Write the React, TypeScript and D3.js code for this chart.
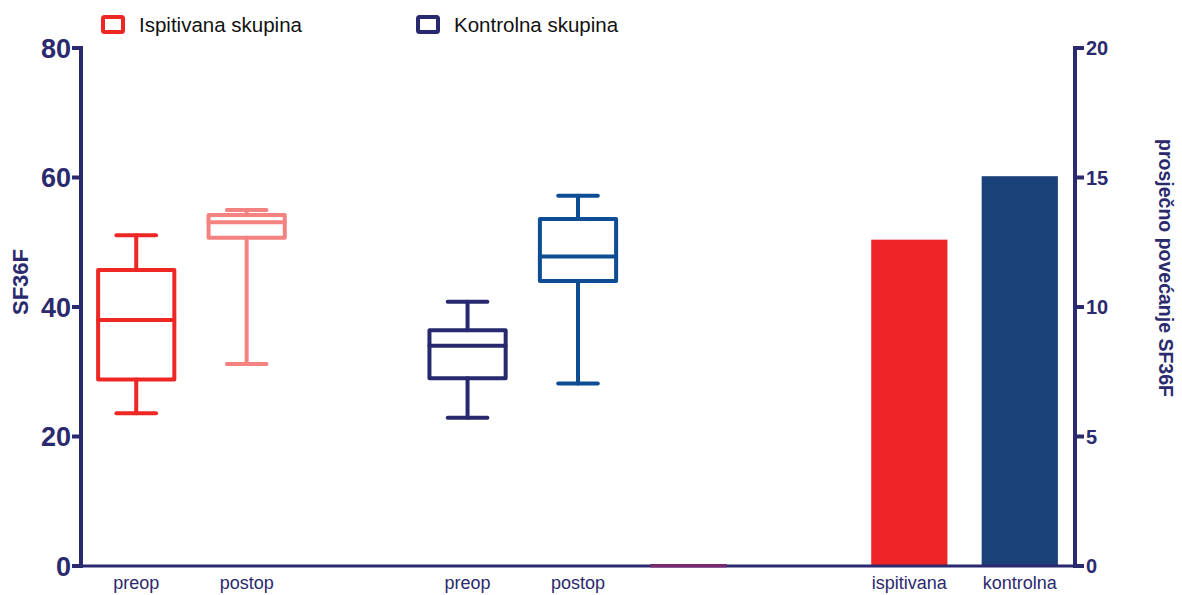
import React from "react";
import * as d3 from "d3";

const slots = ["isp-preop", "isp-postop", "gap1", "kon-preop", "kon-postop", "zero", "gap2", "bar-isp", "bar-kon"];
const slotLabels = ["preop", "postop", "", "preop", "postop", "", "", "ispitivana", "kontrolna"];

// box plot stats: [min, q1, median, q3, max]
const boxSlots = ["isp-preop", "isp-postop", "kon-preop", "kon-postop"];
const boxMin = [23.6, 31.2, 22.9, 28.2];
const boxQ1 = [28.8, 50.7, 29.0, 44.0];
const boxMedian = [38.0, 53.1, 34.0, 47.8];
const boxQ3 = [45.7, 54.2, 36.4, 53.6];
const boxMax = [51.1, 55.0, 40.8, 57.2];
const boxColors = ["#EE2624", "#F48281", "#27286E", "#0E4D94"];

const barSlots = ["zero", "bar-isp", "bar-kon"];
const barValues = [0, 12.6, 15.05];
const barColors = ["#7B2A6E", "#EE2426", "#1A4178"];

const leftTicks = [0, 20, 40, 60, 80];
const rightTicks = [0, 5, 10, 15, 20];

const legendLabels = ["Ispitivana skupina", "Kontrolna skupina"];
const legendColors = ["#EE2624", "#27286E"];

const AXIS = "#2B2A6E";
const FONT = "'Liberation Sans', Arial, sans-serif";

export default function App() {
  const x0 = 81, x1 = 1075, yTop = 48, yBot = 566;
  const x = d3.scaleBand<string>().domain(slots).range([x0, x1]).paddingInner(0.31).paddingOuter(0.155);
  const yL = d3.scaleLinear().domain([0, 80]).range([yBot, yTop]);
  const yR = d3.scaleLinear().domain([0, 20]).range([yBot, yTop]);
  const bw = x.bandwidth();
  const capW = bw * 0.52;

  return (
    <svg width={1182} height={595} style={{ position: "absolute", left: 0, top: 0, background: "#fff" }} fontFamily={FONT}>
      {/* legend */}
      {legendLabels.map((l, i) => {
        const lx = i === 0 ? 103 : 418;
        return (
          <g key={l}>
            <rect x={lx} y={17} width={20} height={15} fill="none" stroke={legendColors[i]} strokeWidth={4} rx={1.5} />
            <text x={lx + 36} y={32} fontSize={20.5} fill="#111">{l}</text>
          </g>
        );
      })}

      {/* boxes */}
      {boxSlots.map((s, i) => {
        const cx = (x(s) as number) + bw / 2;
        const bx = x(s) as number;
        const c = boxColors[i];
        return (
          <g key={s} stroke={c} strokeWidth={4} fill="none" strokeLinecap="round" strokeLinejoin="round">
            <line x1={cx} x2={cx} y1={yL(boxMax[i])} y2={yL(boxQ3[i])} />
            <line x1={cx} x2={cx} y1={yL(boxQ1[i])} y2={yL(boxMin[i])} />
            <line x1={cx - capW / 2} x2={cx + capW / 2} y1={yL(boxMax[i])} y2={yL(boxMax[i])} />
            <line x1={cx - capW / 2} x2={cx + capW / 2} y1={yL(boxMin[i])} y2={yL(boxMin[i])} />
            <rect x={bx} y={yL(boxQ3[i])} width={bw} height={yL(boxQ1[i]) - yL(boxQ3[i])} />
            <line x1={bx} x2={bx + bw} y1={yL(boxMedian[i])} y2={yL(boxMedian[i])} />
          </g>
        );
      })}

      {/* bars */}
      {barSlots.map((s, i) => (
        <rect key={s} x={x(s) as number} y={yR(barValues[i]) - (barValues[i] === 0 ? 2 : 0)} width={bw}
          height={Math.max(yBot - yR(barValues[i]), 0) + (barValues[i] === 0 ? 2 : 0)} fill={barColors[i]} />
      ))}

      {/* axes */}
      <g stroke={AXIS} strokeWidth={4} fill="none">
        <line x1={x0} x2={x0} y1={yTop - 2} y2={yBot + 2} />
        <line x1={x1} x2={x1} y1={yTop - 2} y2={yBot + 2} />
      </g>
      <line x1={x0} x2={x1} y1={yBot} y2={yBot} stroke={AXIS} strokeWidth={3} />
      {barSlots.slice(0, 1).map((s) => (
        <line key="zl" x1={x(s) as number} x2={(x(s) as number) + bw} y1={yBot} y2={yBot} stroke="#7B2A6E" strokeWidth={3} />
      ))}
      {leftTicks.map((t) => (
        <g key={"l" + t}>
          <line x1={x0 - 9} x2={x0} y1={yL(t)} y2={yL(t)} stroke={AXIS} strokeWidth={4} />
          <text x={x0 - 10} y={yL(t)} dy="0.36em" textAnchor="end" fontSize={27} fontWeight="bold" fill={AXIS}>{t}</text>
        </g>
      ))}
      {rightTicks.map((t) => (
        <g key={"r" + t}>
          <line x1={x1} x2={x1 + 9} y1={yR(t)} y2={yR(t)} stroke={AXIS} strokeWidth={4} />
          <text x={x1 + 11} y={yR(t)} dy="0.36em" textAnchor="start" fontSize={20} fontWeight="bold" fill={AXIS}>{t}</text>
        </g>
      ))}
      {slots.map((s, i) => slotLabels[i] ? (
        <text key={"x" + s} x={(x(s) as number) + bw / 2} y={589} textAnchor="middle" fontSize={18} fill={AXIS}>{slotLabels[i]}</text>
      ) : null)}

      <text transform={`translate(28,${(yTop + yBot) / 2 - 25}) rotate(-90)`} textAnchor="middle" fontSize={22} fontWeight="bold" fill={AXIS}>SF36F</text>
      <text transform={`translate(1159,${(yTop + yBot) / 2 - 39}) rotate(90)`} textAnchor="middle" fontSize={19.5} fontWeight="bold" fill={AXIS}>prosječno povećanje SF36F</text>
    </svg>
  );
}
